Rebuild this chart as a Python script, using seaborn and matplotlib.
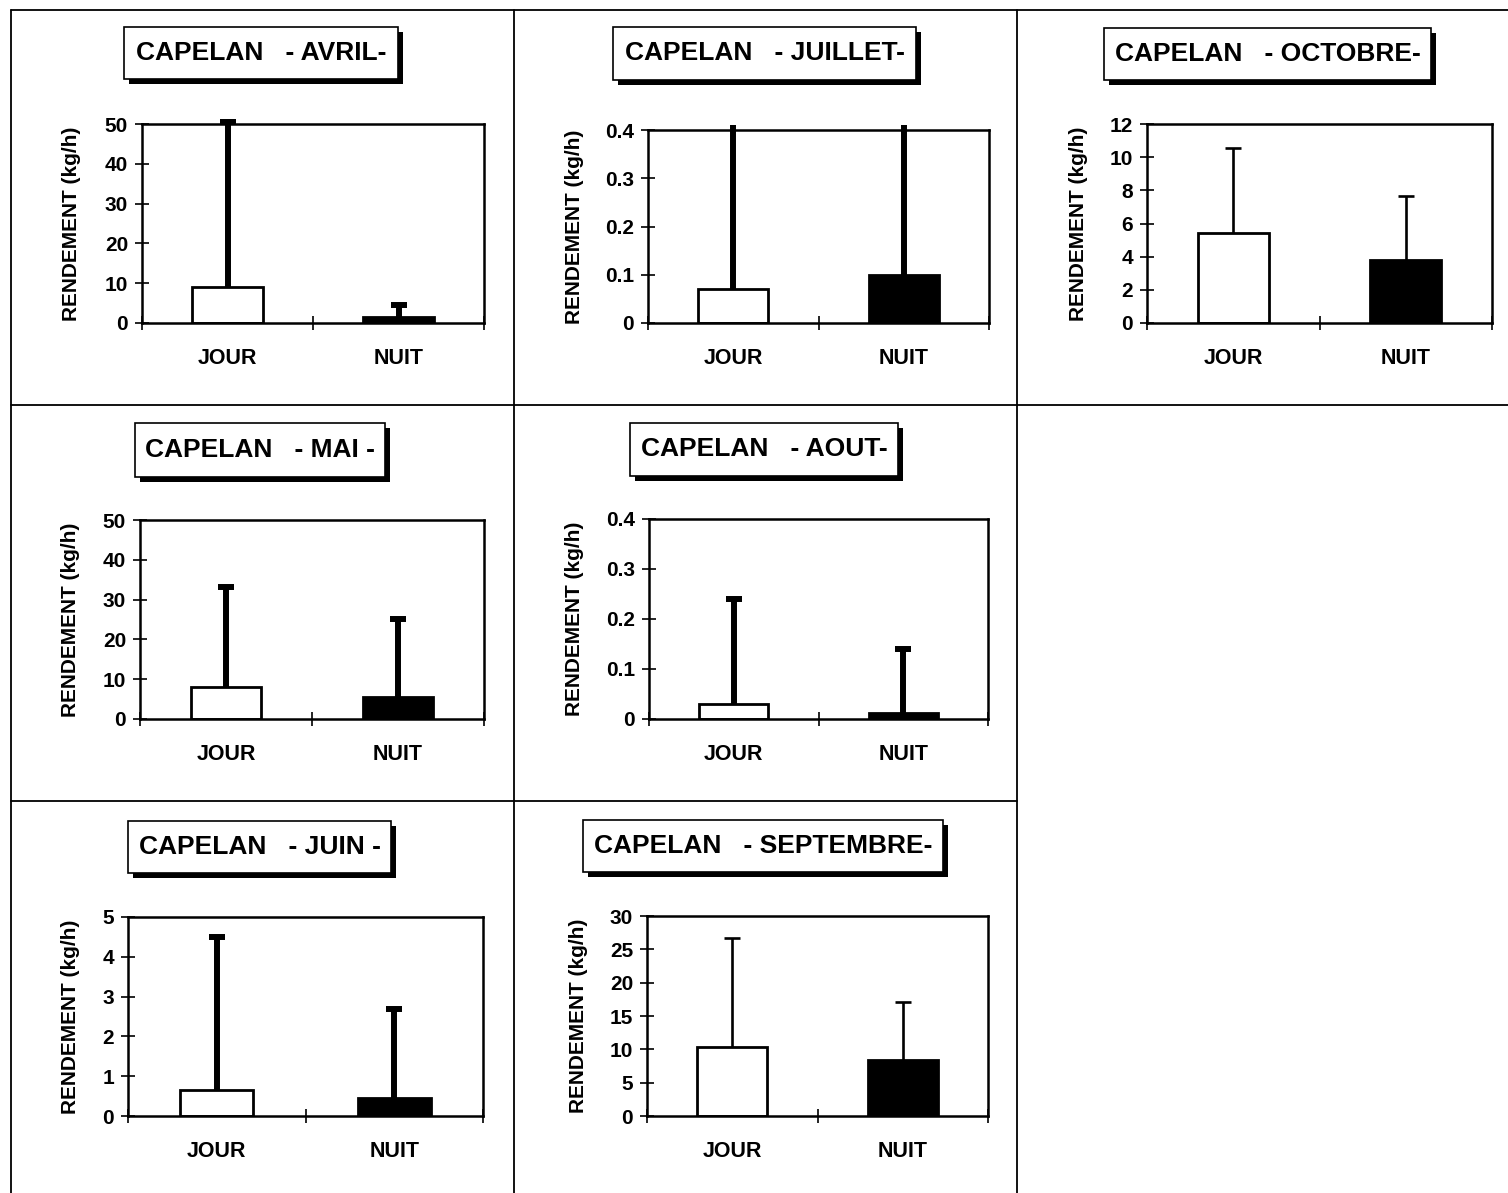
import numpy as np
import pandas as pd
import matplotlib
matplotlib.use("Agg")
import matplotlib.pyplot as plt
from matplotlib.patches import Rectangle
from matplotlib.lines import Line2D
import seaborn as sns

# ---- data: mean catch rate (kg/h) and standard deviation, day vs night ----
months = ["AVRIL", "JUILLET", "OCTOBRE", "MAI", "AOUT", "JUIN", "SEPTEMBRE"]
periods = ["JOUR", "NUIT"]
jour_mean = [9.0, 0.070, 5.4, 8.0, 0.030, 0.65, 10.3]
nuit_mean = [1.5, 0.100, 3.8, 5.6, 0.012, 0.45, 8.4]
jour_sd = [41.5, 0.38, 5.15, 25.2, 0.21, 3.85, 16.4]
nuit_sd = [3.1, 0.35, 3.86, 19.5, 0.128, 2.23, 8.7]
y_max = [50, 0.4, 12, 50, 0.4, 5, 30]
y_step = [10, 0.1, 2, 10, 0.1, 1, 5]
title_text = ["CAPELAN   - AVRIL-", "CAPELAN   - JUILLET-", "CAPELAN   - OCTOBRE-",
              "CAPELAN   - MAI -", "CAPELAN   - AOUT-", "CAPELAN   - JUIN -",
              "CAPELAN   - SEPTEMBRE-"]
y_label = "RENDEMENT (kg/h)"

# ---- page layout (pixels, origin top-left) ----
W, H = 1508, 1193
axes_box = [(142, 124, 484, 323), (648, 130, 989, 323), (1147, 124, 1492, 323),
            (140, 520, 484, 719), (649, 519, 988, 719),
            (128, 917, 483, 1116), (647, 916, 988, 1116)]
title_box = [(124, 27, 398, 79), (613, 27, 916, 80), (1104, 28, 1431, 80),
             (135, 423, 385, 477), (630, 423, 898, 476),
             (128, 821, 391, 873), (583, 820, 943, 872)]
ylabel_x = [71, 575, 1078, 70, 575, 70, 578]
heavy_err = [True, True, False, True, True, True, False]

sns.set_theme(style="white")
plt.rcParams["font.family"] = ["Liberation Sans", "DejaVu Sans"]
plt.rcParams["font.weight"] = "bold"
for key in ["text.color", "axes.labelcolor", "xtick.color", "ytick.color",
            "axes.edgecolor"]:
    plt.rcParams[key] = "black"

fig = plt.figure(figsize=(W / 100, H / 100), dpi=100)
fig.patch.set_facecolor("white")


def fx(x):
    return x / W


def fy(y):
    return 1 - y / H


# table grid
grid_lines = [((11, 10), (1508, 10)), ((11, 10), (11, 1193)),
              ((514, 10), (514, 1193)), ((1017, 10), (1017, 1193)),
              ((11, 405), (1508, 405)), ((11, 801), (1017, 801))]
for (x0, y0), (x1, y1) in grid_lines:
    fig.add_artist(Line2D([fx(x0), fx(x1)], [fy(y0), fy(y1)],
                          transform=fig.transFigure, color="black", lw=1.3))

for i, month in enumerate(months):
    l, t, r, b = axes_box[i]
    ax = fig.add_axes([fx(l), fy(b), (r - l) / W, (b - t) / H])
    df = pd.DataFrame({"period": periods,
                       "value": [jour_mean[i], nuit_mean[i]]})
    sns.barplot(data=df, x="period", y="value", hue="period",
                palette={"JOUR": "white", "NUIT": "black"}, order=periods,
                width=0.41, edgecolor="black", linewidth=2.0,
                legend=False, ax=ax, zorder=2)

    lw = 4.3 if heavy_err[i] else 1.9
    ymax = y_max[i]
    for k, (m, sd) in enumerate(zip([jour_mean[i], nuit_mean[i]],
                                    [jour_sd[i], nuit_sd[i]])):
        top = m + sd
        if top > ymax * 1.02:
            # whisker runs past the top of the plot area: stop just above the frame
            ax.errorbar([k], [m], yerr=[[0], [ymax * 1.025 - m]], fmt="none",
                        ecolor="black", elinewidth=lw, capsize=0,
                        clip_on=False, zorder=3)
        else:
            ax.errorbar([k], [m], yerr=[[0], [sd]], fmt="none", ecolor="black",
                        elinewidth=lw, capsize=0, clip_on=False, zorder=3)
            ax.plot([k], [top], marker="_", markersize=11,
                    markeredgewidth=lw, color="black", clip_on=False, zorder=3)

    ax.set_xlim(-0.5, 1.5)
    ax.set_ylim(0, ymax)
    yt = np.arange(0, ymax + y_step[i] / 2, y_step[i])
    ax.set_yticks(yt)
    ax.set_yticklabels([f"{v:g}" for v in yt], fontsize=15, fontweight="bold")
    ax.tick_params(axis="y", which="major", direction="inout", length=10,
                   width=1.2, color="black", pad=5, left=True)

    ax.set_xticks([-0.5, 0.5, 1.5])
    ax.set_xticklabels([])
    ax.set_xticks([0, 1], minor=True)
    ax.set_xticklabels(periods, minor=True, fontsize=15.5, fontweight="bold")
    ax.tick_params(axis="x", which="major", direction="inout", length=10,
                   width=1.2, color="black", bottom=True)
    ax.tick_params(axis="x", which="minor", length=0, pad=18)
    ax.set_xlabel("")

    ax.set_ylabel(y_label, fontsize=15, fontweight="bold")
    ax.yaxis.label.set_verticalalignment("center")
    ax.yaxis.set_label_coords((ylabel_x[i] - l) / (r - l), 0.5)

    for s in ax.spines.values():
        s.set_visible(True)
        s.set_color("black")
        s.set_linewidth(1.8)
    ax.set_facecolor("white")

    # framed title with drop shadow
    x0, y0, x1, y1 = title_box[i]
    sh = 5
    fig.add_artist(Rectangle((fx(x0 + sh), fy(y1 + sh)), (x1 - x0) / W,
                             (y1 - y0) / H, transform=fig.transFigure,
                             facecolor="black", edgecolor="black", lw=0))
    fig.add_artist(Rectangle((fx(x0), fy(y1)), (x1 - x0) / W, (y1 - y0) / H,
                             transform=fig.transFigure, facecolor="white",
                             edgecolor="black", lw=1.2))
    fig.text(fx((x0 + x1) / 2), fy((y0 + y1) / 2), title_text[i],
             ha="center", va="center", fontsize=19, fontweight="bold")

fig.savefig("out.png", dpi=100, facecolor="white")
